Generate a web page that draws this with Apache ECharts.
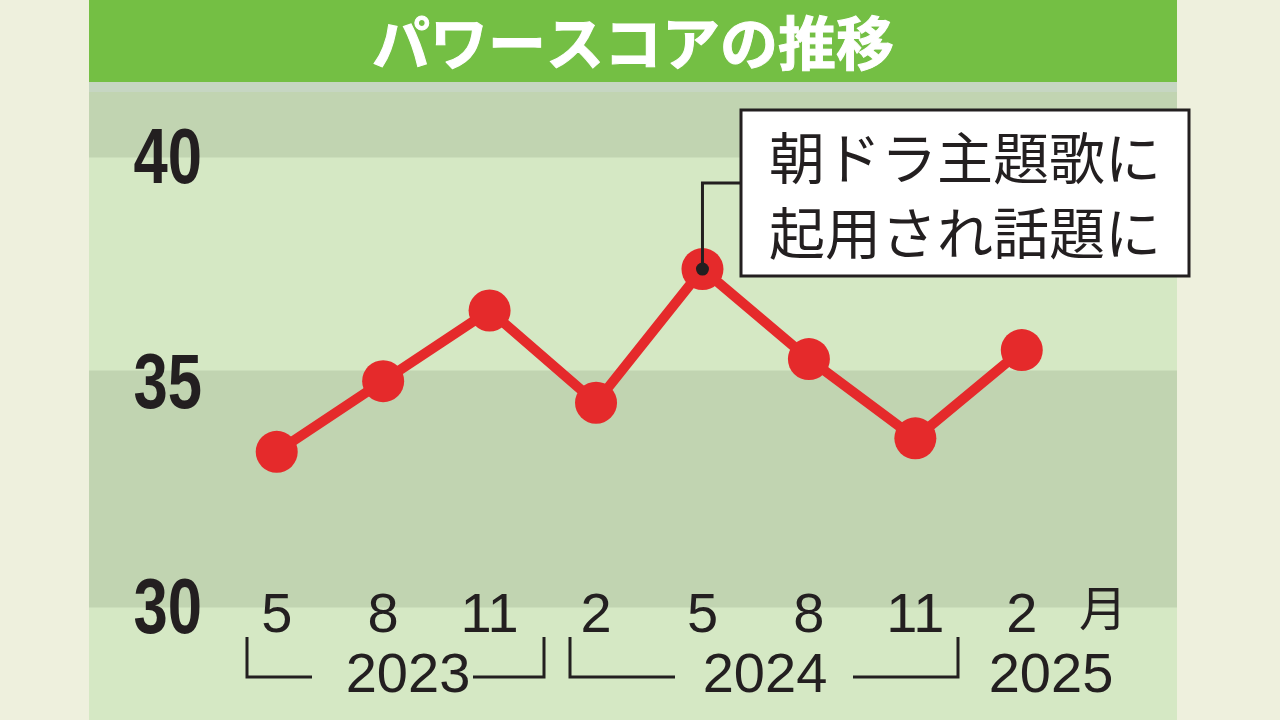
<!DOCTYPE html>
<html><head><meta charset="utf-8">
<script src="https://cdn.jsdelivr.net/npm/echarts@6/dist/echarts.min.js"></script>
<style>html,body{margin:0;padding:0;background:#eef0dd}#c{width:1280px;height:720px}</style>
</head><body><div id="c"></div>
<script>
// ---- data ----
const months = ['5', '8', '11', '2', '5', '8', '11', '2'];
const scores = [33.46, 35.03, 36.60, 34.55, 37.52, 35.52, 33.76, 35.72];
const yTicks = [30, 35, 40];
const years = ['2023', '2024', '2025'];
const monthUnit = '月';
const titleText = 'パワースコアの推移';
const noteLines = ['朝ドラ主題歌に', '起用され話題に'];
const noteIndex = 4;

// ---- styles ----
const INK = '#231f20';
const RED = '#e52a2b';
const chart = echarts.init(document.getElementById('c'), null, {renderer: 'canvas'});

const bgGraphics = [
  {type: 'rect', z: -10, shape: {x: 0, y: 0, width: 1280, height: 720}, style: {fill: '#eef0dd'}},
  {type: 'rect', z: -9, shape: {x: 89, y: 0, width: 1088, height: 720}, style: {fill: '#d5e8c4'}},
  {type: 'rect', z: -8, shape: {x: 89, y: 82, width: 1088, height: 75.5}, style: {fill: '#c1d4b1'}},
  {type: 'rect', z: -8, shape: {x: 89, y: 82, width: 1088, height: 10}, style: {fill: '#c6d6c2'}},
  {type: 'rect', z: -8, shape: {x: 89, y: 370.5, width: 1088, height: 237}, style: {fill: '#c1d4b1'}},
  {type: 'rect', z: -7, shape: {x: 89, y: 0, width: 1088, height: 82}, style: {fill: '#74bf44'}},
  {type: 'text', z: 10, x: 633, y: 43, style: {text: titleText, fill: '#ffffff', font: 'bold 58px "Noto Sans CJK JP"', align: 'center', verticalAlign: 'middle', stroke: '#ffffff', lineWidth: 1}},
  // year labels
  {type: 'text', z: 10, x: 408, y: 677, style: {text: years[0], fill: INK, font: '56px "Liberation Sans", Arial', align: 'center', verticalAlign: 'middle'}},
  {type: 'text', z: 10, x: 765, y: 677, style: {text: years[1], fill: INK, font: '56px "Liberation Sans", Arial', align: 'center', verticalAlign: 'middle'}},
  {type: 'text', z: 10, x: 1051, y: 677, style: {text: years[2], fill: INK, font: '56px "Liberation Sans", Arial', align: 'center', verticalAlign: 'middle'}},
  // brackets
  {type: 'polyline', z: 10, shape: {points: [[247, 637], [247, 677], [312, 677]]}, style: {stroke: INK, lineWidth: 3, fill: null}},
  {type: 'polyline', z: 10, shape: {points: [[473, 677], [544, 677], [544, 637]]}, style: {stroke: INK, lineWidth: 3, fill: null}},
  {type: 'polyline', z: 10, shape: {points: [[570, 637], [570, 677], [675, 677]]}, style: {stroke: INK, lineWidth: 3, fill: null}},
  {type: 'polyline', z: 10, shape: {points: [[853, 677], [958, 677], [958, 637]]}, style: {stroke: INK, lineWidth: 3, fill: null}}
];

chart.setOption({
  animation: false,
  grid: {left: 223.5, right: 205, top: 157.5, bottom: 112.5, containLabel: false},
  xAxis: {
    type: 'category', data: months, boundaryGap: true,
    axisLine: {show: false}, axisTick: {show: false}, splitLine: {show: false},
    axisLabel: {fontSize: 56, color: INK, fontFamily: '"Liberation Sans", Arial', verticalAlign: 'middle', margin: 9},
    name: monthUnit, nameLocation: 'end', nameGap: 4,
    nameTextStyle: {fontSize: 48, color: INK, fontFamily: '"Noto Sans CJK JP"', align: 'left', verticalAlign: 'middle', padding: [26, 0, 0, 0]}
  },
  yAxis: {
    type: 'value', min: yTicks[0], max: yTicks[yTicks.length - 1], interval: yTicks[1] - yTicks[0],
    axisLine: {show: false}, axisTick: {show: false}, splitLine: {show: false},
    axisLabel: {show: false}
  },
  series: [{
    type: 'line', data: scores, z: 5,
    lineStyle: {color: RED, width: 10},
    symbol: 'circle', symbolSize: 42,
    itemStyle: {color: RED},
    clip: false
  }],
  graphic: {elements: bgGraphics}
});

// condensed bold y tick labels, placed through the y scale
const yLabelGraphics = yTicks.map(function (v) {
  const py = chart.convertToPixel({yAxisIndex: 0}, v);
  return {type: 'text', z: 10, x: 202, y: py + 4, scaleX: 0.8,
    style: {text: String(v), fill: INK, font: 'bold 77px "Liberation Sans", Arial', align: 'right', verticalAlign: 'middle'}};
});

// annotation, anchored on the highlighted data point
const p = chart.convertToPixel({gridIndex: 0}, [noteIndex, scores[noteIndex]]);
const boxX = 741, boxY = 110, boxW = 448, boxH = 166, leadY = 183;
chart.setOption({
  graphic: {elements: bgGraphics.concat(yLabelGraphics).concat([
    {type: 'polyline', z: 20, shape: {points: [[boxX, leadY], [p[0], leadY], [p[0], p[1]]]}, style: {stroke: INK, lineWidth: 3, fill: null}},
    {type: 'circle', z: 21, shape: {cx: p[0], cy: p[1], r: 6.5}, style: {fill: INK}},
    {type: 'rect', z: 20, shape: {x: boxX, y: boxY, width: boxW, height: boxH}, style: {fill: '#ffffff', stroke: INK, lineWidth: 3}},
    {type: 'text', z: 21, x: boxX + boxW / 2, y: 158, style: {text: noteLines[0], fill: INK, font: '56px "Noto Sans CJK JP"', align: 'center', verticalAlign: 'middle'}},
    {type: 'text', z: 21, x: boxX + boxW / 2, y: 233, style: {text: noteLines[1], fill: INK, font: '56px "Noto Sans CJK JP"', align: 'center', verticalAlign: 'middle'}}
  ])}
});
</script>
</body></html>
